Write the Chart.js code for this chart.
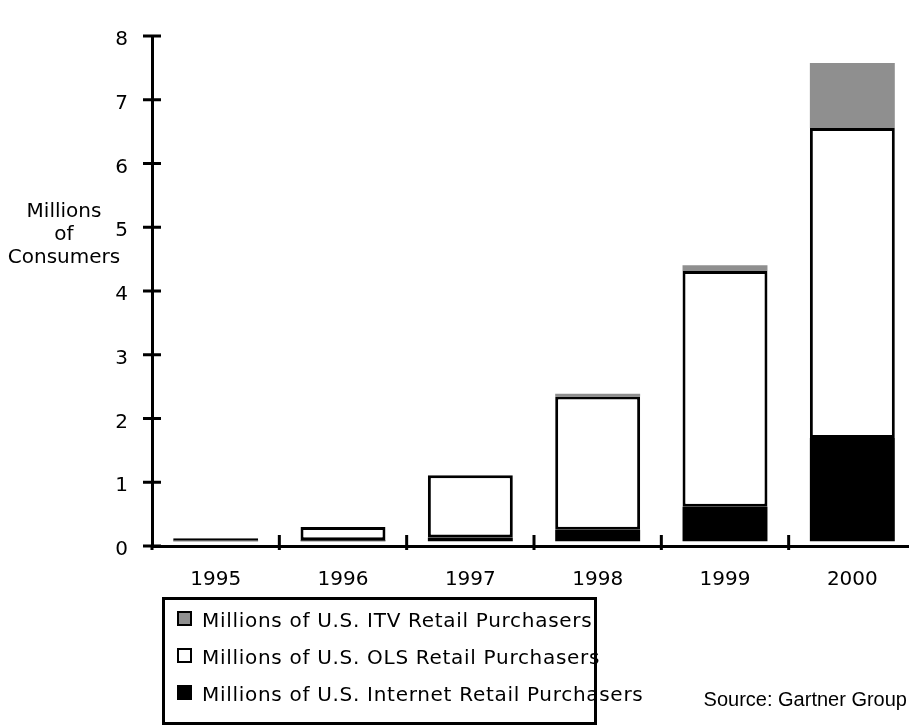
<!DOCTYPE html>
<html>
<head>
<meta charset="utf-8">
<script src="https://cdn.jsdelivr.net/npm/chart.js@4"></script>
<style>
  body { margin: 0; overflow: hidden; background: #fff; width: 909px; height: 726px; position: relative; }
  #myChart { position: absolute; left: 0; top: 0; }
  #legend { position: absolute; left: 0; top: 0; font-family: "DejaVu Sans"; font-size: 20px; letter-spacing: 0.7px; color: #000; }
  .row { position: absolute; left: 202px; white-space: nowrap; line-height: 20px; }
  .swatch { position: absolute; left: 177px; width: 15px; height: 15px; box-sizing: border-box; border: 2px solid #000; }
  #legendBox { position: absolute; left: 162px; top: 597px; width: 435px; height: 128px; box-sizing: border-box; border: 3px solid #000; z-index: 2; }
  #source { position: absolute; right: 2px; top: 689px; font-family: "Liberation Sans"; font-size: 20px; line-height: 20px; white-space: nowrap; }
</style>
</head>
<body>
<canvas id="myChart" width="920" height="726"></canvas>
<div id="legend"></div>
<div id="legendBox"></div>
<div id="source">Source: Gartner Group</div>
<script>
const years = ['1995', '1996', '1997', '1998', '1999', '2000']
const yTitle = ['Millions', 'of', 'Consumers']

// bars sit a little above the zero line in the original
const baseOffset = [0.075, 0.075, 0.075, 0.075, 0.075, 0.075]
const internet = [0.01, 0.015, 0.06, 0.18, 0.54, 1.62]
const ols = [0.035, 0.21, 0.975, 2.09, 3.70, 4.86]
const itv = [0, 0, 0, 0.045, 0.09, 1.02]

const font = { family: 'DejaVu Sans', size: 20 }

// setup
const data = {
  labels: years,
  datasets: [
    { label: '', data: baseOffset, backgroundColor: 'transparent', borderWidth: 0 },
    { label: 'Millions of U.S. Internet Retail Purchasers', data: internet, backgroundColor: '#000', borderWidth: 0 },
    { label: 'Millions of U.S. OLS Retail Purchasers', data: ols, backgroundColor: '#fff', borderColor: '#000', borderWidth: 3, borderSkipped: false },
    { label: 'Millions of U.S. ITV Retail Purchasers', data: itv, backgroundColor: '#8f8f8f', borderWidth: 0 }
  ]
};

// tick marks crossing the axes + horizontal axis title
const axisExtras = {
  id: 'axisExtras',
  afterDraw(chart) {
    const { ctx, scales: { x, y } } = chart;
    ctx.save();
    ctx.strokeStyle = '#000';
    ctx.lineWidth = 3;
    ctx.beginPath();
    y.ticks.forEach((t, i) => {
      const py = y.getPixelForTick(i);
      ctx.moveTo(x.left - 9, py);
      ctx.lineTo(x.left + 9, py);
    });
    for (let i = 1; i < years.length; i++) {
      const px = (x.getPixelForValue(i - 1) + x.getPixelForValue(i)) / 2;
      ctx.moveTo(px, y.bottom - 11);
      ctx.lineTo(px, y.bottom + 4);
    }
    // y axis pokes a bit below the x axis
    ctx.moveTo(x.left, y.bottom);
    ctx.lineTo(x.left, y.bottom + 4);
    ctx.stroke();

    ctx.font = '20px "DejaVu Sans"';
    ctx.fillStyle = '#000';
    ctx.textAlign = 'center';
    ctx.textBaseline = 'middle';
    yTitle.forEach((line, i) => ctx.fillText(line, 64, 212 + i * 23));
    ctx.restore();
  }
};

// config
const config = {
  type: 'bar',
  data,
  options: {
    responsive: false,
    animation: false,
    layout: { padding: { top: 14, right: 4, left: 0, bottom: 0 } },
    datasets: { bar: { categoryPercentage: 1, barPercentage: 0.667 } },
    plugins: { legend: { display: false }, tooltip: { enabled: false } },
    scales: {
      x: {
        stacked: true,
        grid: { display: false, drawTicks: false },
        border: { display: true, color: '#000', width: 3 },
        ticks: { color: '#000', font, padding: 22 },
        afterFit(s) { s.height = 180; }
      },
      y: {
        stacked: true,
        min: 0,
        max: 8,
        grid: { display: false, drawTicks: false },
        border: { display: true, color: '#000', width: 3 },
        ticks: { stepSize: 1, color: '#000', font, padding: 24, labelOffset: 4 },
        afterFit(s) { s.width = 152; }
      }
    }
  },
  plugins: [axisExtras]
};

const myChart = new Chart(document.getElementById('myChart'), config);

// html legend, top row = top of the stack
const legend = document.getElementById('legend');
const shown = myChart.data.datasets.filter(ds => ds.label).reverse();
shown.forEach((ds, i) => {
  const sw = document.createElement('div');
  sw.className = 'swatch';
  sw.style.top = (611 + i * 37) + 'px';
  sw.style.background = ds.backgroundColor;
  legend.appendChild(sw);
  const row = document.createElement('div');
  row.className = 'row';
  row.style.top = (610 + i * 37) + 'px';
  row.textContent = ds.label;
  legend.appendChild(row);
});
</script>
</body>
</html>
